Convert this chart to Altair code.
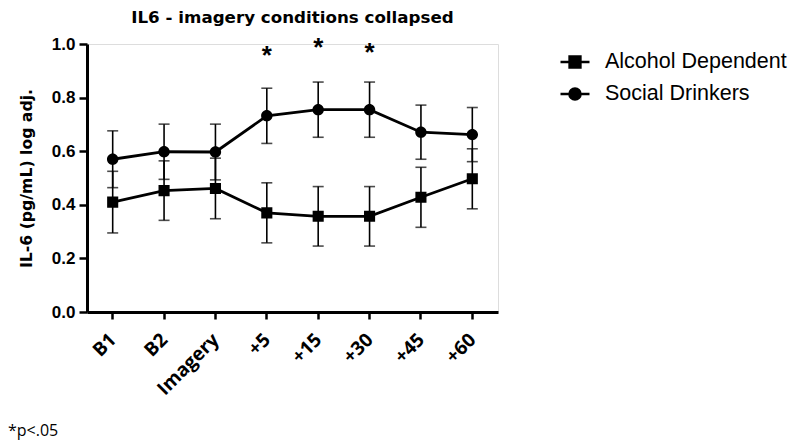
import altair as alt
import pandas as pd

# ---- data ----
times = ["B1", "B2", "Imagery", "+5", "+15", "+30", "+45", "+60"]
groups = ["Alcohol Dependent", "Social Drinkers"]
ad_mean = [0.410, 0.453, 0.461, 0.370, 0.357, 0.357, 0.428, 0.497]
ad_err = [0.115, 0.111, 0.113, 0.112, 0.111, 0.111, 0.112, 0.112]
sd_mean = [0.570, 0.598, 0.597, 0.732, 0.755, 0.755, 0.671, 0.662]
sd_err = [0.106, 0.103, 0.104, 0.103, 0.103, 0.103, 0.101, 0.101]
sig_times = ["+5", "+15", "+30"]
sig_level = [0.926, 0.957, 0.936]
footnote = ["*p<.05"]

rows = []
for g, means, errs in [(groups[0], ad_mean, ad_err), (groups[1], sd_mean, sd_err)]:
    for t, m, e in zip(times, means, errs):
        rows.append({"time": t, "group": g, "mean": m, "lo": m - e, "hi": m + e})
df = pd.DataFrame(rows)
sig_df = pd.DataFrame({"time": sig_times, "level": sig_level, "mark": ["*"] * len(sig_times)})
note_df = pd.DataFrame({"note": footnote})

# marker shapes inside a [-1,1] box; the open "M-1,0H1" segment is only
# visible where a stroke is applied (the merged legend), not on filled plot points
square_path = "M-1,0H1M-0.37,-0.37H0.37V0.37H-0.37Z"
circle_path = "M-1,0H1M0.38,0A0.38,0.38,0,1,1,-0.38,0A0.38,0.38,0,1,1,0.38,0Z"

legend_common = dict(
    title=None,
    orient="none",
    legendX=472,
    legendY=2,
    padding=0,
    symbolSize=841,
    symbolStrokeWidth=2.6,
    labelFont="Liberation Sans",
    labelFontSize=21.5,
    labelColor="black",
    labelOffset=14,
    rowPadding=5,
    labelLimit=400,
)

x_enc = alt.X(
    "time:N",
    sort=times,
    title=None,
    axis=alt.Axis(
        labelAngle=-45,
        labelFont="Open Sans",
        labelFontSize=19,
        labelFontWeight="bold",
        labelColor="black",
        labelPadding=11,
        labelOffset=-6,
        tickSize=7,
        tickWidth=2.5,
        tickColor="black",
        domainColor="black",
        domainWidth=3,
        grid=False,
    ),
)
y_scale = alt.Scale(domain=[0, 1], nice=False, zero=True)
y_axis = alt.Axis(
    values=[0, 0.2, 0.4, 0.6, 0.8, 1.0],
    format=".1f",
    labelFont="Liberation Sans",
    labelFontSize=17,
    labelFontWeight="bold",
    labelColor="black",
    labelPadding=4,
    tickSize=8,
    tickWidth=2.5,
    tickColor="black",
    domainColor="black",
    domainWidth=3,
    grid=False,
    title="IL-6 (pg/mL) log adj.",
    titleFont="DejaVu Sans",
    titleFontSize=15.7,
    titleFontWeight="bold",
    titleColor="black",
    titleX=-56,
    titleY=134,
    titleAlign="center",
    titleBaseline="alphabetic",
    titleAngle=-90,
)

base = alt.Chart(df)

lines = base.mark_line(strokeWidth=2.8).encode(
    x=x_enc,
    y=alt.Y("mean:Q", scale=y_scale, axis=y_axis),
    stroke=alt.Stroke(
        "group:N",
        scale=alt.Scale(domain=groups, range=["black", "black"]),
        legend=alt.Legend(**legend_common),
    ),
)
bars = base.mark_rule(color="black", strokeWidth=1.6).encode(
    x=alt.X("time:N", sort=times),
    y="lo:Q",
    y2="hi:Q",
)
cap_lo = base.mark_tick(color="black", size=11, thickness=1.6).encode(
    x=alt.X("time:N", sort=times), y="lo:Q"
)
cap_hi = base.mark_tick(color="black", size=11, thickness=1.6).encode(
    x=alt.X("time:N", sort=times), y="hi:Q"
)
points = base.mark_point(filled=True, opacity=1, color="black", size=900).encode(
    x=alt.X("time:N", sort=times),
    y="mean:Q",
    shape=alt.Shape(
        "group:N",
        scale=alt.Scale(domain=groups, range=[square_path, circle_path]),
        legend=alt.Legend(symbolFillColor="black", **legend_common),
    ),
)
stars = alt.Chart(sig_df).mark_text(
    font="Liberation Sans", fontSize=26, fontWeight="bold", color="black", baseline="alphabetic"
).encode(x=alt.X("time:N", sort=times), y="level:Q", text="mark:N")

note = alt.Chart(note_df).mark_text(
    font="Open Sans", fontSize=16, color="black", align="left", baseline="alphabetic"
).encode(x=alt.value(-79), y=alt.value(392), text="note:N")

chart = (
    alt.layer(lines, bars, cap_lo, cap_hi, points, stars, note)
    .properties(
        width=411,
        height=268,
        autosize=alt.AutoSizeParams(type="none"),
        padding={"left": 79, "top": 36, "right": 294, "bottom": 128},
        title=alt.TitleParams(
            "IL6 - imagery conditions collapsed",
            font="DejaVu Sans",
            fontSize=16.7,
            fontWeight="bold",
            color="black",
            anchor="middle",
            frame="group",
            offset=8,
        ),
    )
    .configure_view(stroke=None)
    .configure(background="white")
)

chart.save("out.html", embed_options={"renderer": "svg", "actions": False})
